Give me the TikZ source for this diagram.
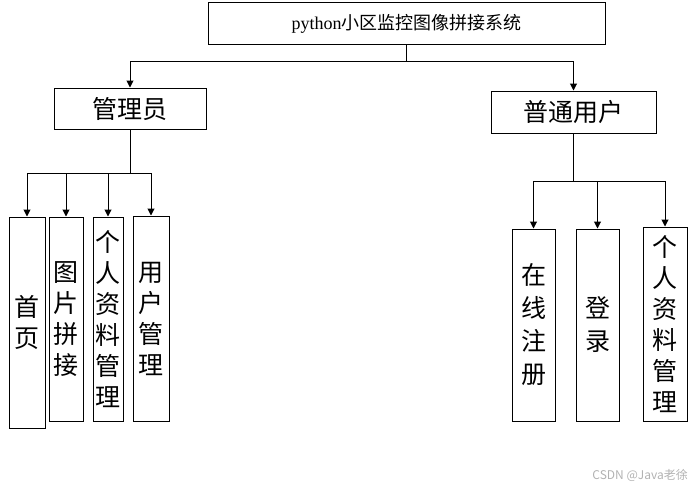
\documentclass[tikz,border=0pt]{standalone}
\usepackage{fontspec}
\setmainfont{Liberation Serif}
\newfontfamily\cjk{Noto Sans CJK SC}
\usetikzlibrary{arrows.meta}
\tikzset{
  box/.style={draw=black, line width=1pt, inner sep=0pt, align=center, fill=white},
  vbox/.style={box, font=\cjk\fontsize{25pt}{31pt}\selectfont},
  rbox/.style={box, font=\cjk\fontsize{25pt}{33pt}\selectfont},
  conn/.style={draw=black, line width=1pt},
  arr/.style={conn, -{Triangle[length=7pt,width=7pt]}}
}
\begin{document}
\begin{tikzpicture}[x=1pt,y=-1pt]
\useasboundingbox (0,0) rectangle (693,488);
% top
\node[box, minimum width=397pt, minimum height=42pt] (sys) at (406.5,23.5)
  {\fontsize{18pt}{18pt}\selectfont python{\cjk 小区监控图像拼接系统}};
\node[box, minimum width=152pt, minimum height=41pt, font=\cjk\fontsize{25pt}{25pt}\selectfont] (admin) at (130,108.5) {管理员};
\node[box, minimum width=165pt, minimum height=42pt, font=\cjk\fontsize{25pt}{25pt}\selectfont] (user) at (573.5,112) {普通用户};
% admin leaves
\node[vbox, minimum width=36pt, minimum height=211pt] (a1) at (27,322.5) {首\\页};
\node[vbox, minimum width=34pt, minimum height=204pt] (a2) at (66,319) {图\\片\\拼\\接};
\node[vbox, minimum width=30pt, minimum height=204pt] (a3) at (108,319) {个\\人\\资\\料\\管\\理};
\node[vbox, minimum width=36pt, minimum height=205pt] (a4) at (151,318.5) {用\\户\\管\\理};
% user leaves
\node[rbox, minimum width=43pt, minimum height=192pt] (u1) at (533.5,325) {在\\线\\注\\册};
\node[rbox, minimum width=43pt, minimum height=192pt] (u2) at (597.5,325) {登\\录};
\node[vbox, minimum width=44pt, minimum height=194pt] (u3) at (665,324) {个\\人\\资\\料\\管\\理};
% junctions
\coordinate (j0) at (406.5,61);
\coordinate (j1) at (130,173);
\coordinate (j2) at (573.5,181);
% connectors
\draw[conn] (sys.south) -- (j0);
\draw[arr] (j0) -| (admin.north);
\draw[arr] (j0) -| (user.north);
\draw[conn] (admin.south) -- (j1);
\draw[arr] (j1) -| (a1.north);
\draw[arr] (j1) -| (a2.north);
\draw[arr] (j1) -| (a3.north);
\draw[arr] (j1) -| (a4.north);
\draw[conn] (user.south) -- (j2);
\draw[arr] (j2) -| (u1.north);
\draw[arr] (j2) -| (u2.north);
\draw[arr] (j2) -| (u3.north);
% watermark
\node[text=black!30, font=\cjk\fontsize{12pt}{12pt}\selectfont, anchor=east, inner sep=0pt] (wm) at (688,475) {CSDN @Java老徐};
\end{tikzpicture}
\end{document}
